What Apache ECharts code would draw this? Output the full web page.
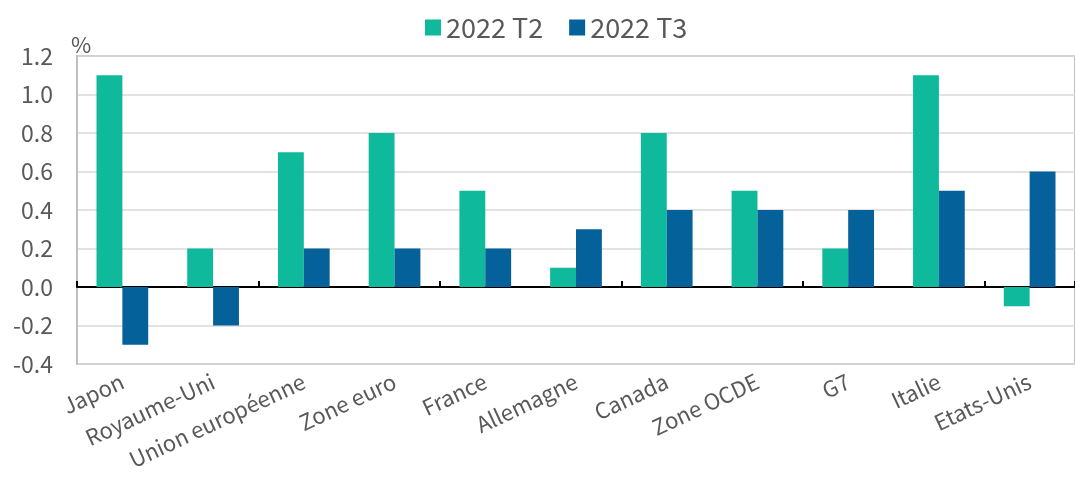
<!DOCTYPE html>
<html>
<head>
<meta charset="utf-8">
<script src="https://cdn.jsdelivr.net/npm/echarts@6/dist/echarts.min.js"></script>
<style>html,body{margin:0;padding:0;background:#fff}#c{width:1075px;height:486px}</style>
</head>
<body>
<div id="c"></div>
<script>
var categories = ['Japon','Royaume-Uni','Union européenne','Zone euro','France','Allemagne','Canada','Zone OCDE','G7','Italie','Etats-Unis'];
var seriesNames = ['2022 T2','2022 T3'];
var t2 = [1.1, 0.2, 0.7, 0.8, 0.5, 0.1, 0.8, 0.5, 0.2, 1.1, -0.1];
var t3 = [-0.3, -0.2, 0.2, 0.2, 0.2, 0.3, 0.4, 0.4, 0.4, 0.5, 0.6];

var FONT = '"Noto Sans CJK JP", "Noto Sans", sans-serif';
var TXT = '#595959';
var chart = echarts.init(document.getElementById('c'));
chart.setOption({
  animation: false,
  textStyle: {fontFamily: FONT},
  color: ['#0EB99C', '#05619A'],
  legend: {
    top: 9, left: 420,
    itemWidth: 16, itemHeight: 16, itemGap: 26,
    icon: 'rect',
    textStyle: {fontSize: 27, color: TXT, fontFamily: FONT},
    data: seriesNames
  },
  grid: {left: 77, right: -1, top: 56, bottom: 122, show: true, borderColor: '#bfbfbf', borderWidth: 2},
  xAxis: [{
    type: 'category', data: categories,
    axisLine: {onZero: true, lineStyle: {color: '#000', width: 2}},
    axisTick: {show: true, inside: true, length: 6, lineStyle: {color: '#000', width: 2}},
    axisLabel: {show: false}
  }, {
    type: 'category', data: categories, position: 'bottom',
    axisLine: {show: false}, axisTick: {show: false},
    axisLabel: {rotate: 25, fontSize: 22, color: TXT, margin: 16, interval: 0, fontFamily: FONT}
  }],
  yAxis: {
    type: 'value', min: -0.4, max: 1.2, interval: 0.2,
    name: '%', nameLocation: 'end', nameGap: 0,
    nameTextStyle: {fontSize: 22, color: TXT, align: 'left', padding: [0,0,0,-6]},
    axisLine: {show: true, lineStyle: {color: '#bfbfbf', width: 2}},
    axisTick: {show: false},
    axisLabel: {fontSize: 23, color: TXT, margin: 24, formatter: function(v){return v.toFixed(1);}},
    splitLine: {lineStyle: {color: '#d9d9d9', width: 1.5}}
  },
  series: [
    {name: seriesNames[0], type: 'bar', data: t2, barGap: '0%', barCategoryGap: '43%'},
    {name: seriesNames[1], type: 'bar', data: t3, barGap: '0%', barCategoryGap: '43%'}
  ]
});
</script>
</body>
</html>
